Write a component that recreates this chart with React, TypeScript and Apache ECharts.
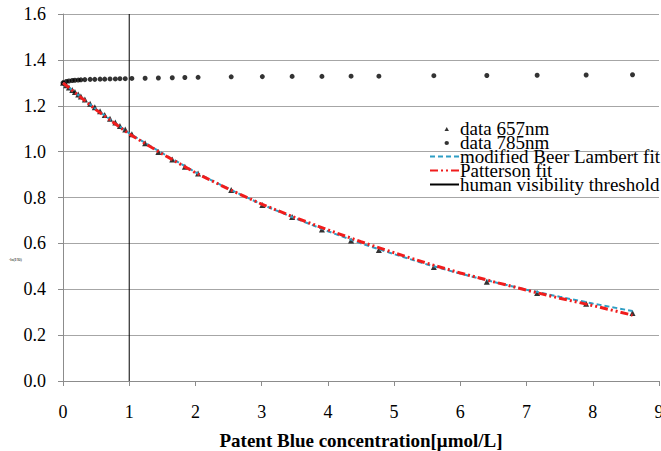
import React, { useEffect, useRef } from "react";
import * as echarts from "echarts";

const concentrations = [0, 0.05, 0.09, 0.14, 0.18, 0.23, 0.27, 0.33, 0.41, 0.48, 0.56, 0.63, 0.71, 0.79, 0.86, 0.94, 1.04, 1.24, 1.44, 1.65, 1.84, 2.04, 2.54, 3.01, 3.46, 3.91, 4.35, 4.77, 5.6, 6.4, 7.16, 7.9, 8.6];
const data657 = [1.3, 1.289, 1.28, 1.269, 1.26, 1.249, 1.24, 1.227, 1.209, 1.193, 1.176, 1.16, 1.143, 1.127, 1.112, 1.096, 1.076, 1.037, 0.998, 0.966, 0.934, 0.905, 0.833, 0.767, 0.715, 0.661, 0.612, 0.571, 0.497, 0.433, 0.384, 0.337, 0.297];
const data785 = [1.3, 1.306, 1.308, 1.31, 1.311, 1.312, 1.313, 1.314, 1.315, 1.315, 1.316, 1.316, 1.317, 1.317, 1.318, 1.318, 1.319, 1.32, 1.321, 1.322, 1.323, 1.324, 1.326, 1.327, 1.328, 1.328, 1.329, 1.329, 1.331, 1.332, 1.333, 1.334, 1.335];

const fitX = [0, 0.5, 1, 1.5, 2, 2.5, 3, 3.5, 4, 4.5, 5, 5.5, 6, 6.5, 7, 7.5, 8, 8.6];
const beerLambertFit = [1.3, 1.185, 1.08, 0.993, 0.91, 0.838, 0.77, 0.71, 0.653, 0.6, 0.553, 0.508, 0.468, 0.432, 0.398, 0.367, 0.338, 0.305];
const pattersonFit = [1.3, 1.182, 1.077, 0.99, 0.908, 0.837, 0.771, 0.713, 0.659, 0.607, 0.559, 0.513, 0.471, 0.433, 0.396, 0.361, 0.329, 0.287];

const thresholdX = [1, 1];
const thresholdY = [0, 1.6];

const xAxisTitle = "Patent Blue concentration[\u03bcmol/L]";
const seriesNames = ["data 657nm", "data 785nm", "modified Beer Lambert fit", "Patterson fit", "human visibility threshold"];

const pairs = (xs: number[], ys: number[]) => xs.map((x, i) => [x, ys[i]]);

const TRI_ICON = "path://M0,0L0,0M26,6L26,6M13,5.6L15,1.4L17,5.6Z";
const DOT_ICON = "path://M0,0L0,0M26,6L26,6M13,3.5A2,2,0,1,0,17,3.5A2,2,0,1,0,13,3.5Z";
const hidden = { color: "rgba(0,0,0,0)", borderColor: "rgba(0,0,0,0)", borderWidth: 0 };

export default function App() {
  const ref = useRef<HTMLDivElement>(null);
  useEffect(() => {
    if (!ref.current) return;
    const chart = echarts.init(ref.current, undefined, { renderer: "svg" });
    const font = "serif";
    const tickRich = { t: { fontFamily: font, fontSize: 18, color: "#000" } };
    chart.setOption({
      animation: false,
      backgroundColor: "#ffffff",
      textStyle: { fontFamily: font },
      grid: { left: 63, right: 2, top: 14, bottom: 70, containLabel: false, outerBoundsMode: "none" },
      xAxis: {
        type: "value",
        min: 0,
        max: 9,
        interval: 1,
        name: "{n|" + xAxisTitle + "}",
        nameLocation: "middle",
        nameGap: 50,
        nameTextStyle: {
          fontFamily: font,
          fontSize: 19,
          fontWeight: "bold",
          color: "#000",
          rich: { n: { fontFamily: font, fontSize: 19, fontWeight: "bold", color: "#000" } },
        },
        axisLine: { show: true, onZero: false, lineStyle: { color: "#8c8c8c", width: 1 } },
        axisTick: { show: true, inside: false, length: 5, lineStyle: { color: "#8c8c8c" } },
        axisLabel: {
          fontFamily: font,
          fontSize: 18,
          color: "#000",
          margin: 22,
          formatter: (v: number) => "{t|" + v + "}",
          rich: tickRich,
        },
        splitLine: { show: false },
      },
      yAxis: {
        type: "value",
        min: 0,
        max: 1.6,
        interval: 0.2,
        axisLine: { show: true, lineStyle: { color: "#8c8c8c", width: 1 } },
        axisTick: { show: true, inside: false, length: 5, lineStyle: { color: "#8c8c8c" } },
        axisLabel: {
          fontFamily: font,
          fontSize: 18,
          color: "#000",
          margin: 17,
          formatter: (v: number) => "{t|" + v.toFixed(1) + "}",
          rich: tickRich,
        },
        splitLine: { show: true, lineStyle: { color: "#a6a6a6", width: 1 } },
      },
      legend: {
        orient: "vertical",
        left: 424,
        top: 114,
        itemWidth: 29,
        itemHeight: 6,
        itemGap: -5,
        symbolKeepAspect: false,
        data: [
          { name: seriesNames[0], icon: TRI_ICON },
          { name: seriesNames[1], icon: DOT_ICON },
          { name: seriesNames[2], itemStyle: hidden },
          { name: seriesNames[3], itemStyle: hidden },
          { name: seriesNames[4], itemStyle: hidden },
        ],
        textStyle: { fontFamily: font, fontSize: 19, color: "#000", padding: [0, 0, 0, -4] },
      },
      graphic: [
        {
          type: "text",
          left: 9,
          top: 257,
          style: { text: "-ln(I/I0)", fontSize: 4, fill: "#000", fontFamily: font },
        },
      ],
      series: [
        {
          name: seriesNames[0],
          type: "scatter",
          symbol: "triangle",
          symbolSize: 6,
          itemStyle: { color: "#000" },
          data: pairs(concentrations, data657),
          z: 3,
        },
        {
          name: seriesNames[1],
          type: "scatter",
          symbol: "circle",
          symbolSize: 5,
          itemStyle: { color: "#000" },
          data: pairs(concentrations, data785),
          z: 3,
        },
        {
          name: seriesNames[2],
          type: "line",
          symbol: "none",
          showSymbol: false,
          itemStyle: { color: "#2f9ec4" },
          lineStyle: { color: "#2f9ec4", width: 2, type: [5, 3] },
          data: pairs(fitX, beerLambertFit),
          z: 4,
        },
        {
          name: seriesNames[3],
          type: "line",
          symbol: "none",
          showSymbol: false,
          itemStyle: { color: "#f01c1c" },
          lineStyle: { color: "#f01c1c", width: 3, type: [8, 3, 2, 3, 2, 3] },
          data: pairs(fitX, pattersonFit),
          z: 4,
        },
        {
          name: seriesNames[4],
          type: "line",
          symbol: "none",
          showSymbol: false,
          itemStyle: { color: "#000" },
          lineStyle: { color: "#000", width: 1 },
          data: pairs(thresholdX, thresholdY),
          z: 2,
        },
      ],
    });
    return () => chart.dispose();
  }, []);
  return (
    <div
      ref={ref}
      style={{ position: "fixed", left: 0, top: 0, width: 661, height: 451, background: "#fff" }}
    />
  );
}
